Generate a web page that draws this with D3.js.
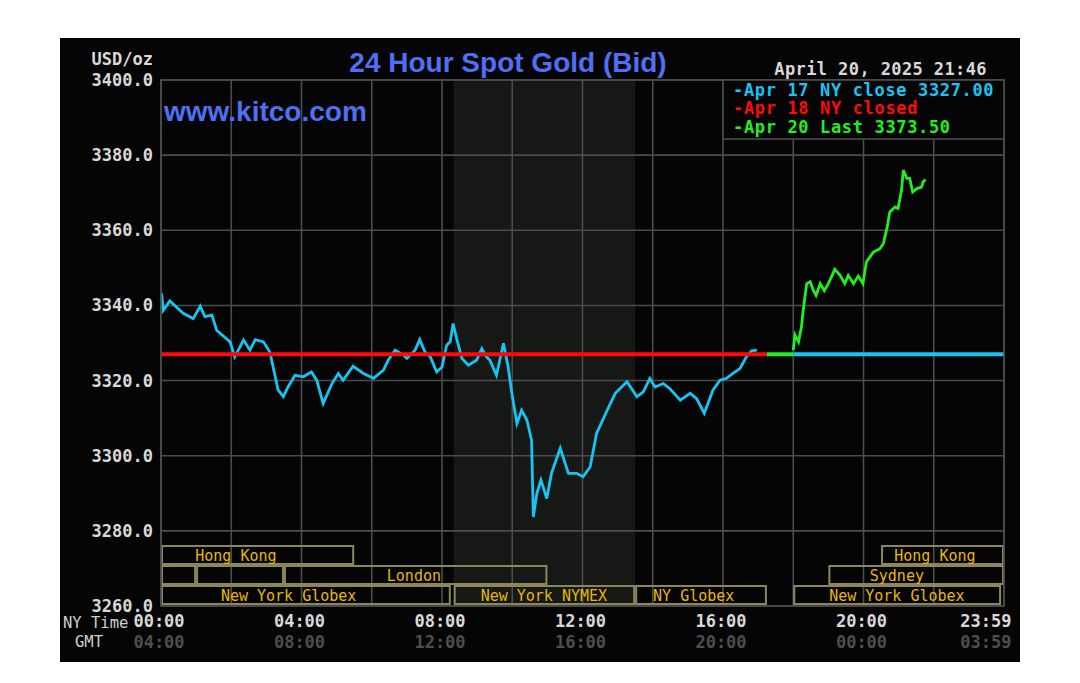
<!DOCTYPE html>
<html>
<head>
<meta charset="utf-8">
<script src="https://cdn.jsdelivr.net/npm/d3@7"></script>
<style>
  html, body { margin: 0; padding: 0; background: #ffffff; }
  svg { display: block; }
</style>
</head>
<body>
<svg id="chart" width="1080" height="683"></svg>
<script>
// ---------------- DATA ----------------
const titleText = "24 Hour Spot Gold (Bid)";
const siteText = "www.kitco.com";
const unitText = "USD/oz";
const dateText = "April 20, 2025 21:46";

const yTicks = [3260, 3280, 3300, 3320, 3340, 3360, 3380, 3400];
const xGridTimes = ["00:00","02:00","04:00","06:00","08:00","10:00","12:00","14:00","16:00","18:00","20:00","22:00","24:00"];
const nyTimeLabels = ["00:00", "04:00", "08:00", "12:00", "16:00", "20:00", "23:59"];
const gmtTimeLabels = ["04:00", "08:00", "12:00", "16:00", "20:00", "00:00", "03:59"];

const closeValue = 3327.00;
const lastValue = 3373.50;

const legendItems = [
  { text: "-Apr 17 NY close 3327.00", color: "#17c4f2" },
  { text: "-Apr 18 NY closed", color: "#ff0a0a" },
  { text: "-Apr 20 Last 3373.50", color: "#22ee22" }
];

// flat reference segments at the close value
const flatSegments = [
  { start: "00:00", end: "17:15", color: "#ff0a0a" },
  { start: "17:15", end: "18:00", color: "#22ee22" },
  { start: "18:00", end: "24:00", color: "#17c4f2" }
];

// Apr 17 price path (NY time, price)
const apr17Series = [
  ["00:01",3343.2],["00:04",3338.7],["00:15",3341.2],["00:38",3337.9],["00:55",3336.5],
  ["01:07",3339.8],["01:15",3337.0],["01:27",3337.4],["01:35",3333.4],["01:58",3330.3],
  ["02:06",3326.3],["02:21",3330.8],["02:32",3328.1],["02:41",3330.9],["02:55",3330.3],
  ["03:06",3327.6],["03:20",3317.5],["03:29",3315.7],["03:37",3318.3],["03:49",3321.4],
  ["04:03",3321.0],["04:17",3322.3],["04:26",3320.1],["04:37",3313.9],["04:52",3319.2],
  ["05:03",3321.9],["05:11",3320.1],["05:28",3323.8],["05:46",3321.9],["06:03",3320.6],
  ["06:20",3322.8],["06:28",3325.4],["06:40",3328.1],["06:54",3326.8],["07:00",3325.9],
  ["07:14",3328.1],["07:22",3330.9],["07:31",3327.6],["07:40",3326.3],["07:51",3322.3],
  ["08:00",3323.6],["08:08",3329.4],["08:14",3330.3],["08:19",3335.2],["08:25",3331.2],
  ["08:34",3325.9],["08:45",3324.1],["08:59",3325.4],["09:08",3328.5],["09:16",3326.3],
  ["09:22",3325.4],["09:33",3321.4],["09:45",3329.9],["09:53",3323.6],["09:59",3317.0],
  ["10:05",3311.3],["10:08",3308.6],["10:16",3312.1],["10:25",3309.5],["10:33",3304.1],
  ["10:36",3283.7],["10:42",3290.0],["10:49",3293.5],["10:59",3288.6],["11:07",3295.3],
  ["11:22",3302.0],["11:36",3295.3],["11:50",3295.3],["12:01",3294.4],["12:13",3297.0],
  ["12:24",3305.9],["12:41",3311.7],["12:56",3316.6],["13:16",3319.7],["13:33",3315.7],
  ["13:44",3317.0],["13:55",3320.6],["14:04",3318.3],["14:18",3319.2],["14:29",3317.9],
  ["14:47",3314.8],["15:04",3316.6],["15:15",3315.2],["15:28",3311.3],["15:43",3317.5],
  ["15:55",3320.1],["16:06",3320.6],["16:17",3321.9],["16:29",3323.2],["16:40",3326.3],
  ["16:49",3327.9],["16:58",3328.1]
];

// Apr 20 price path (NY time, price)
const apr20Series = [
  ["18:00",3328.1],["18:03",3332.1],["18:09",3330.3],["18:14",3334.3],["18:17",3338.7],
  ["18:23",3345.8],["18:29",3346.3],["18:34",3344.1],["18:39",3342.7],["18:46",3345.8],
  ["18:53",3343.9],["19:00",3345.8],["19:11",3349.6],["19:20",3348.0],["19:28",3345.8],
  ["19:34",3348.0],["19:43",3345.8],["19:51",3347.8],["19:59",3345.8],["20:05",3351.6],
  ["20:17",3354.2],["20:28",3355.1],["20:34",3356.5],["20:40",3360.5],["20:45",3364.9],
  ["20:54",3366.2],["20:59",3365.8],["21:05",3370.7],["21:08",3376.0],["21:14",3373.8],
  ["21:19",3373.8],["21:24",3370.2],["21:31",3371.1],["21:39",3371.5],["21:42",3372.9],
  ["21:46",3373.5]
];

const shadedSession = { start: "08:20", end: "13:30" };

// trading sessions: row 0 = top row
const sessions = [
  { row: 0, start: "00:00", end: "05:30", label: "Hong Kong", labelAt: "02:08" },
  { row: 0, start: "20:30", end: "24:00", label: "Hong Kong", labelAt: "22:02" },
  { row: 1, start: "00:00", end: "01:00", label: "", labelAt: null },
  { row: 1, start: "01:00", end: "03:30", label: "", labelAt: null },
  { row: 1, start: "03:30", end: "11:00", label: "London", labelAt: "07:12" },
  { row: 1, start: "19:00", end: "24:00", label: "Sydney", labelAt: "20:57" },
  { row: 2, start: "00:00", end: "08:15", label: "New York Globex", labelAt: "03:38" },
  { row: 2, start: "08:20", end: "13:30", label: "New York NYMEX", labelAt: "10:54" },
  { row: 2, start: "13:30", end: "17:15", label: "NY Globex", labelAt: "15:10" },
  { row: 2, start: "18:00", end: "23:55", label: "New York Globex", labelAt: "20:57" }
];

// ---------------- DRAW ----------------
const mins = s => { const [h, m] = s.split(":").map(Number); return h * 60 + m; };

const svg = d3.select("#chart");
const L = 161, R = 1004, T = 80, B = 606;

const x = d3.scaleLinear().domain([0, 1440]).range([L, R]);
const y = d3.scaleLinear().domain([3260, 3400]).range([B, T]);

const mono = "'DejaVu Sans Mono', 'Liberation Mono', monospace";
const sans = "'Liberation Sans', Arial, sans-serif";

// panel
svg.append("rect").attr("x", 60).attr("y", 38).attr("width", 960).attr("height", 624).attr("fill", "#050505");

// shaded NYMEX region
svg.append("rect")
  .attr("x", x(mins(shadedSession.start))).attr("y", T)
  .attr("width", x(mins(shadedSession.end)) - x(mins(shadedSession.start)))
  .attr("height", B - T).attr("fill", "#161815");

// grid
const grid = svg.append("g").attr("stroke", "#4c4c4c").attr("stroke-width", 1.6);
grid.selectAll("line.h").data(yTicks).join("line")
  .attr("x1", L).attr("x2", R).attr("y1", d => y(d)).attr("y2", d => y(d));
grid.selectAll("line.v").data(xGridTimes).join("line")
  .attr("y1", T).attr("y2", B).attr("x1", d => x(mins(d))).attr("x2", d => x(mins(d)));

// sessions
const sessG = svg.append("g");
const rowTop = r => 546 + r * 20;
sessG.selectAll("rect").data(sessions).join("rect")
  .attr("x", d => x(mins(d.start)) + 1)
  .attr("y", d => rowTop(d.row))
  .attr("width", d => x(mins(d.end)) - x(mins(d.start)) - 2)
  .attr("height", 18)
  .attr("fill", "none").attr("stroke", "#8c875a").attr("stroke-width", 2);
sessG.selectAll("text").data(sessions.filter(d => d.label)).join("text")
  .attr("x", d => x(mins(d.labelAt)))
  .attr("y", d => rowTop(d.row) + 15)
  .attr("text-anchor", "middle")
  .attr("font-family", mono).attr("font-size", 15)
  .attr("fill", "#e8b800")
  .text(d => d.label);

// Apr 17 price line
const line = d3.line().x(d => x(mins(d[0]))).y(d => y(d[1]));
svg.append("path").datum(apr17Series).attr("d", line)
  .attr("fill", "none").attr("stroke", "#17c4f2").attr("stroke-width", 2.8);

// flat close segments
svg.append("g").selectAll("line").data(flatSegments).join("line")
  .attr("x1", d => x(mins(d.start))).attr("x2", d => x(mins(d.end)))
  .attr("y1", y(closeValue)).attr("y2", y(closeValue))
  .attr("stroke", d => d.color).attr("stroke-width", 4);

// Apr 20 price line
svg.append("path").datum(apr20Series).attr("d", line)
  .attr("fill", "none").attr("stroke", "#22ee22").attr("stroke-width", 2.8);

// frame
svg.append("rect").attr("x", L).attr("y", T).attr("width", R - L).attr("height", B - T)
  .attr("fill", "none").attr("stroke", "#4c4c4c").attr("stroke-width", 1.6);

// legend
svg.append("rect").attr("x", 723).attr("y", T).attr("width", R - 723).attr("height", 59)
  .attr("fill", "#050505").attr("stroke", "#4c4c4c").attr("stroke-width", 1.6);
svg.append("g").selectAll("text").data(legendItems).join("text")
  .attr("x", 733).attr("y", (d, i) => [96, 114, 133][i])
  .attr("font-family", mono).attr("font-weight", "bold").attr("font-size", 17)
  .attr("letter-spacing", 0.65)
  .attr("fill", d => d.color).text(d => d.text);

// y axis labels
svg.append("g").selectAll("text").data(yTicks).join("text")
  .attr("x", 153).attr("y", d => y(d) + 6)
  .attr("text-anchor", "end")
  .attr("font-family", mono).attr("font-weight", "bold").attr("font-size", 17)
  .attr("fill", "#d8d8d8").text(d => d.toFixed(1));
svg.append("text").attr("x", 153).attr("y", 65).attr("text-anchor", "end")
  .attr("font-family", mono).attr("font-weight", "bold").attr("font-size", 17)
  .attr("fill", "#d8d8d8").text(unitText);

// x axis labels
const xl = svg.append("g");
const lastIdx = nyTimeLabels.length - 1;
const labelX = i => i === lastIdx ? x(mins(nyTimeLabels[i])) + 8 : x(mins(nyTimeLabels[i])) - 2;
xl.selectAll("text.ny").data(nyTimeLabels).join("text")
  .attr("x", (d, i) => labelX(i))
  .attr("y", 627)
  .attr("text-anchor", (d, i) => i === lastIdx ? "end" : "middle")
  .attr("font-family", mono).attr("font-weight", "bold").attr("font-size", 17)
  .attr("fill", "#d8d8d8").text(d => d);
xl.selectAll("text.gmt").data(gmtTimeLabels).join("text")
  .attr("x", (d, i) => labelX(i))
  .attr("y", 648)
  .attr("text-anchor", (d, i) => i === lastIdx ? "end" : "middle")
  .attr("font-family", mono).attr("font-weight", "bold").attr("font-size", 17)
  .attr("fill", "#4e4e4e").text(d => d);
svg.append("text").attr("x", 63).attr("y", 628)
  .attr("font-family", mono).attr("font-size", 15.5).attr("fill", "#cfcfcf").text("NY Time");
svg.append("text").attr("x", 75).attr("y", 647)
  .attr("font-family", mono).attr("font-size", 15.5).attr("fill", "#cfcfcf").text("GMT");

// title, site, date
svg.append("text").attr("x", 508).attr("y", 72).attr("text-anchor", "middle")
  .attr("font-family", sans).attr("font-weight", "bold").attr("font-size", 28)
  .attr("fill", "#4f6ff5").text(titleText);
svg.append("text").attr("x", 164).attr("y", 121)
  .attr("font-family", sans).attr("font-weight", "bold").attr("font-size", 28)
  .attr("fill", "#4f6ff5").text(siteText);
svg.append("text").attr("x", 987).attr("y", 75).attr("text-anchor", "end")
  .attr("font-family", mono).attr("font-weight", "bold").attr("font-size", 17)
  .attr("letter-spacing", 0.4)
  .attr("fill", "#d8d8d8").text(dateText);
</script>
</body>
</html>
